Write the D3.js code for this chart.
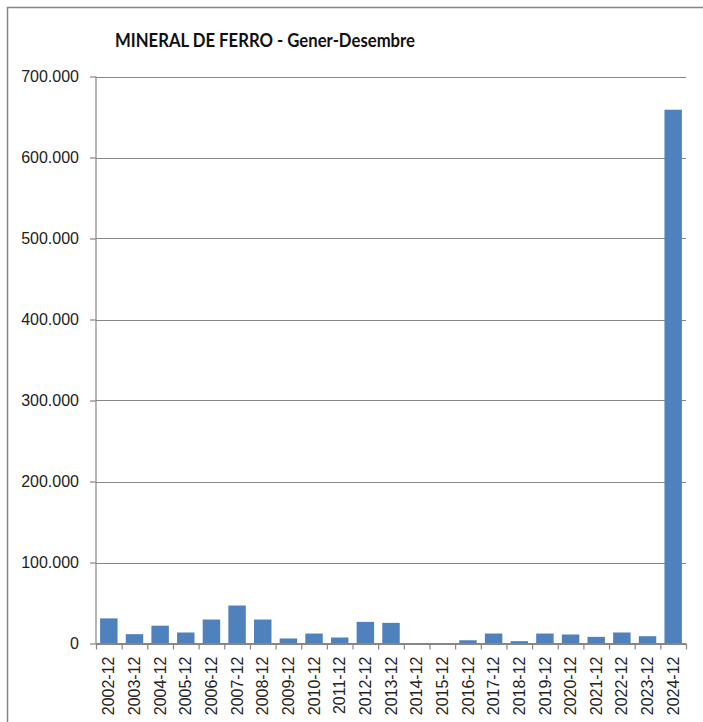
<html>
<head>
<meta charset="utf-8">
<title>Mineral de ferro</title>
<script src="https://d3js.org/d3.v7.min.js"></script>
<style>
  body { margin: 0; background: #fff; }
  text { font-family: "Liberation Sans", Arial, sans-serif; fill: #222; }
</style>
</head>
<body>
<svg width="703" height="722"></svg>
<script>
// periods and values (tonnes)
var periods = ["2002-12","2003-12","2004-12","2005-12","2006-12","2007-12","2008-12","2009-12","2010-12","2011-12","2012-12","2013-12","2014-12","2015-12","2016-12","2017-12","2018-12","2019-12","2020-12","2021-12","2022-12","2023-12","2024-12"];
var values = [31000, 11500, 22000, 13600, 29600, 46900, 29600, 6200, 12300, 7400, 26700, 25500, 0, 0, 4000, 12300, 2900, 12300, 11100, 8200, 13600, 9000, 659000];
var yTicks = [0, 100000, 200000, 300000, 400000, 500000, 600000, 700000];
var title = "MINERAL DE FERRO - Gener-Desembre";

var svg = d3.select("svg");
var pLeft = 96, pRight = 686, pTop = 76.5, pBottom = 643.5;
var grey = "#868686";

var loc = d3.formatLocale({decimal: ",", thousands: ".", grouping: [3], currency: ["", ""]});
var fmt = loc.format(",d");

var x = d3.scaleBand().domain(periods).range([pLeft, pRight]).paddingInner(0.32).paddingOuter(0.16);
var xb = d3.scaleLinear().domain([0, periods.length]).range([pLeft, pRight]);
var y = d3.scaleLinear().domain([0, 700000]).range([pBottom, pTop]);

// chart border (only top/left visible)
svg.append("path").attr("d", "M7.5,730 V7.5 H720").attr("fill", "none").attr("stroke", grey).attr("stroke-width", 1.5);

// title
svg.append("text").attr("x", 115).attr("y", 47)
  .attr("textLength", 300).attr("lengthAdjust", "spacingAndGlyphs")
  .style("font-family", "Lato, 'Liberation Sans', sans-serif")
  .style("font-weight", "bold").style("font-size", "19.5px").style("fill", "#111")
  .text(title);

// gridlines
svg.append("g").selectAll("line").data(yTicks).enter().append("line")
  .attr("x1", pLeft).attr("x2", pRight)
  .attr("y1", function(d) { return Math.round(y(d)) + 0.5; })
  .attr("y2", function(d) { return Math.round(y(d)) + 0.5; })
  .attr("stroke", grey).attr("stroke-width", 1.2);

// bars
svg.append("g").selectAll("rect").data(values).enter().append("rect")
  .attr("x", function(d, i) { return x(periods[i]); })
  .attr("width", x.bandwidth())
  .attr("y", function(d) { return y(d); })
  .attr("height", function(d) { return y(0) - y(d); })
  .attr("fill", "#4f81bd");

// y axis
var ya = svg.append("g").attr("transform", "translate(" + pLeft + ",0)")
  .call(d3.axisLeft(y).tickValues(yTicks).tickFormat(fmt).tickSize(6).tickPadding(11));
ya.selectAll("line, path").attr("stroke", grey).attr("stroke-width", 1.2);
ya.select(".domain").attr("d", "M0," + pTop + "V" + pBottom);
ya.selectAll("text").style("font-size", "16px").style("fill", "#222");

// x axis boundary ticks
var xt = svg.append("g").attr("transform", "translate(0," + pBottom + ")")
  .call(d3.axisBottom(xb).tickValues(d3.range(periods.length + 1)).tickFormat("").tickSize(6));
xt.selectAll("line, path").attr("stroke", grey).attr("stroke-width", 1.2);
xt.select(".domain").attr("d", "M" + pLeft + ",0H" + pRight);

// x labels
var xl = svg.append("g").attr("transform", "translate(0," + pBottom + ")")
  .call(d3.axisBottom(x).tickSize(0).tickPadding(0));
xl.select(".domain").remove();
xl.selectAll("text")
  .attr("transform", "rotate(-90)")
  .attr("x", -13).attr("y", 0).attr("dy", "0.35em")
  .style("text-anchor", "end").style("font-size", "16px").style("fill", "#222");
</script>
</body>
</html>
